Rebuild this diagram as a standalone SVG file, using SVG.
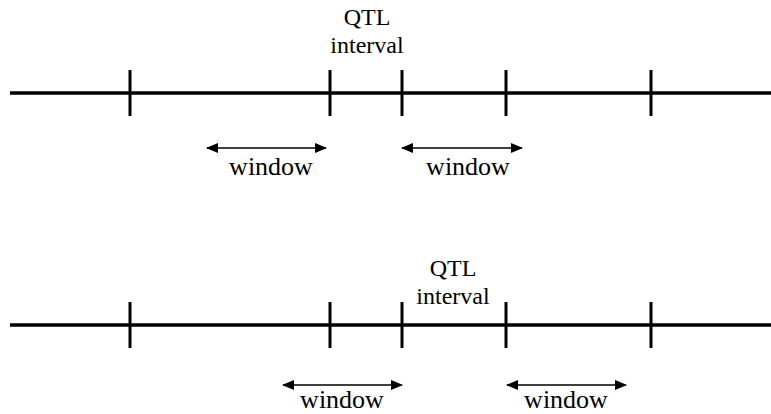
<svg xmlns="http://www.w3.org/2000/svg" width="771" height="414" viewBox="0 0 771 414">
<style>
.axis{stroke:#000;stroke-width:3.5;fill:none}
.tick{stroke:#000;stroke-width:3;fill:none}
.arr{stroke:#000;stroke-width:1.6;fill:none;marker-start:url(#ah);marker-end:url(#ah)}
</style>
<defs>
<marker id="ah" viewBox="0 0 12 10" refX="11" refY="5" markerWidth="12" markerHeight="10" markerUnits="userSpaceOnUse" orient="auto-start-reverse">
<path d="M0,0 L12,5 L0,10 Z" fill="#000"/>
</marker>
</defs>
<g id="connectors">
<line class="axis" x1="10" y1="93" x2="771" y2="93"/>
<line class="axis" x1="10" y1="325" x2="771" y2="325"/>
<line class="arr" x1="207" y1="148" x2="326" y2="148"/>
<line class="arr" x1="402" y1="148" x2="522" y2="148"/>
<line class="arr" x1="283" y1="385" x2="402" y2="385"/>
<line class="arr" x1="507" y1="385" x2="626" y2="385"/>
</g>
<g id="ticks-top">
<line class="tick" x1="130" y1="70" x2="130" y2="116"/>
<line class="tick" x1="330" y1="70" x2="330" y2="116"/>
<line class="tick" x1="402" y1="70" x2="402" y2="116"/>
<line class="tick" x1="506" y1="70" x2="506" y2="116"/>
<line class="tick" x1="651" y1="70" x2="651" y2="116"/>
</g>
<g id="ticks-bottom">
<line class="tick" x1="130" y1="302" x2="130" y2="348"/>
<line class="tick" x1="330" y1="302" x2="330" y2="348"/>
<line class="tick" x1="402" y1="302" x2="402" y2="348"/>
<line class="tick" x1="506" y1="302" x2="506" y2="348"/>
<line class="tick" x1="651" y1="302" x2="651" y2="348"/>
</g>
<g font-family="'Liberation Serif', 'Times New Roman', serif" fill="#000" text-anchor="middle">
<g id="label-qtl-top" font-size="24"><text x="367" y="25">QTL</text><text x="367" y="52.5">interval</text></g>
<g id="label-qtl-bottom" font-size="24"><text x="453" y="276">QTL</text><text x="453" y="303.5">interval</text></g>
<g font-size="26">
<g id="window-top-1"><text x="271" y="175">window</text></g>
<g id="window-top-2"><text x="468" y="175">window</text></g>
<g id="window-bottom-1"><text x="342" y="408">window</text></g>
<g id="window-bottom-2"><text x="566" y="408">window</text></g>
</g>
</g>
</svg>
